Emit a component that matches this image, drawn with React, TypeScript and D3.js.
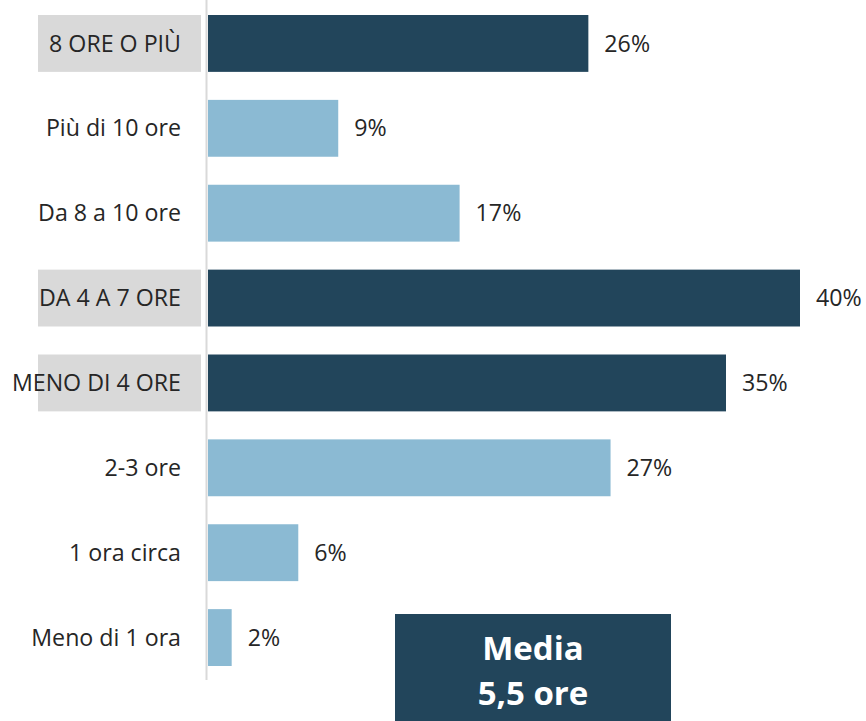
import React from "react";
import * as d3 from "d3";

const categories = [
  "8 ORE O PIÙ",
  "Più di 10 ore",
  "Da 8 a 10 ore",
  "DA 4 A 7 ORE",
  "MENO DI 4 ORE",
  "2-3 ore",
  "1 ora circa",
  "Meno di 1 ora",
];
const values = [25.7, 8.8, 17, 40, 35, 27.2, 6.1, 1.6];
const highlighted = [true, false, false, true, true, false, false, false];
const mediaLines = ["Media", "5,5 ore"];

const W = 866;
const H = 721;
const FONT = "'Open Sans', sans-serif";
const DARK = "#22455B";
const LIGHT = "#8BBAD3";

export default function App() {
  const x = d3.scaleLinear().domain([0, 40]).range([208, 800]);
  const y = d3
    .scaleBand<string>()
    .domain(categories)
    .range([1, 680])
    .paddingInner(0.33)
    .paddingOuter(0.165);
  const bw = y.bandwidth();

  return (
    <svg
      width={W}
      height={H}
      style={{ position: "absolute", left: 0, top: 0, background: "#fff" }}
      fontFamily={FONT}
    >
      {categories.map((c, i) => {
        const yy = y(c)!;
        const cy = yy + bw / 2;
        return (
          <g key={c}>
            {highlighted[i] && (
              <rect x={38} y={yy} width={163} height={bw} fill="#D9D9D9" />
            )}
            <text
              x={181}
              y={cy}
              dy="0.35em"
              textAnchor="end"
              fontSize={23.2}
              fill="#262626"
            >
              {c}
            </text>
            <rect
              x={x(0)}
              y={yy}
              width={x(values[i]) - x(0)}
              height={bw}
              fill={highlighted[i] ? DARK : LIGHT}
            />
            <text
              x={x(values[i]) + 16}
              y={cy}
              dy="0.35em"
              fontSize={23.2}
              fill="#262626"
            >
              {Math.round(values[i])}%
            </text>
          </g>
        );
      })}
      <line x1={206.5} x2={206.5} y1={0} y2={680} stroke="#D9D9D9" strokeWidth={2} />
      <rect x={395} y={614} width={276} height={110} fill={DARK} />
      {mediaLines.map((t, i) => (
        <text
          key={t}
          x={533}
          y={660 + i * 45}
          textAnchor="middle"
          fontSize={33}
          fontWeight="bold"
          fill="#fff"
        >
          {t}
        </text>
      ))}
    </svg>
  );
}
